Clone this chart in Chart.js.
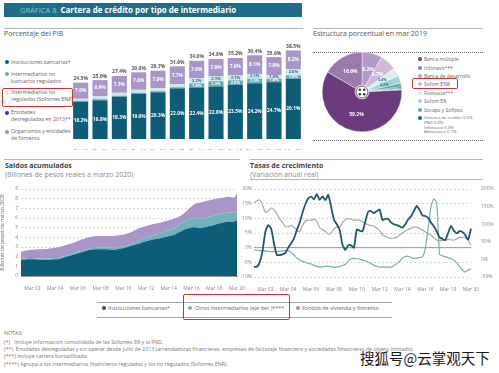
<!DOCTYPE html>
<html><head><meta charset="utf-8">
<script src="https://cdn.jsdelivr.net/npm/chart.js@4.4.1/dist/chart.umd.min.js"></script>
<style>
body{margin:0;background:#fff;font-family:'Open Sans',sans-serif;}
#root{position:relative;width:499px;height:373px;overflow:hidden;background:#fff;}
.a{position:absolute;white-space:nowrap;}
canvas{position:absolute;}
.hl{position:absolute;height:1px;background:#b5b5b5;}
.sec{position:absolute;font-size:7px;color:#555;line-height:8px;white-space:nowrap;}
.secb{position:absolute;font-size:7px;color:#444;font-weight:700;line-height:8px;white-space:nowrap;}
.secs{position:absolute;font-size:7px;color:#8a8a8a;line-height:8px;white-space:nowrap;}
.lg{position:absolute;font-size:5.3px;color:#666;line-height:6.7px;white-space:nowrap;}
.pl{position:absolute;font-size:5px;color:#666;line-height:6px;white-space:nowrap;}
.dot{position:absolute;width:4px;height:4px;border-radius:50%;}
.red{position:absolute;border:1.5px solid #c8372d;border-radius:2px;box-sizing:border-box;}
.note{position:absolute;font-size:5.3px;color:#777;line-height:6px;white-space:nowrap;}
</style></head><body><div id="root">

<div class="a" style="left:4px;top:3px;width:298px;height:14px;background:#1d6d8a;"></div>
<div class="a" style="left:20px;top:3px;line-height:14px;font-size:7.5px;color:#8cc6d8;">GRÁFICA 8. <span style="color:#fff;font-weight:700;font-size:8px;">Cartera de crédito por tipo de intermediario</span></div>

<div class="hl" style="left:4px;top:28px;width:299px;"></div>
<div class="hl" style="left:313px;top:28px;width:170px;"></div>
<div class="sec" style="left:4px;top:30px;">Porcentaje del PIB</div>
<div class="sec" style="left:313px;top:30px;">Estructura porcentual en mar 2019</div>

<!-- bar legend -->
<div class="dot" style="left:4.7px;top:60.3px;background:#0d5c78;"></div>
<div class="lg" style="left:11px;top:59px;">Instituciones bancarias*</div>
<div class="dot" style="left:4.7px;top:72.3px;background:#63aab4;"></div>
<div class="lg" style="left:11px;top:71px;">Intermediarios no<br>bancarios regulados</div>
<div class="dot" style="left:4.7px;top:90.7px;background:#cfe7ea;"></div>
<div class="lg" style="left:11px;top:89.3px;">Intermediarios no<br>regulados (Sofomes ENR)</div>
<div class="dot" style="left:4.7px;top:110.7px;background:#5c2d70;"></div>
<div class="lg" style="left:11px;top:109.3px;">Entidades<br>desreguladas en 2013**</div>
<div class="dot" style="left:4.7px;top:129.7px;background:#9d95ad;"></div>
<div class="lg" style="left:11px;top:128.3px;">Organismos y entidades<br>de fomento</div>
<div class="red" style="left:2px;top:88px;width:71px;height:19px;"></div>

<canvas id="bars" width="232" height="112" style="left:71px;top:38px;"></canvas>

<!-- pie -->
<div class="a" style="left:313px;top:52px;width:170px;border-top:1px dotted #666;"></div>
<div class="a" style="left:313px;top:140px;width:170px;border-top:1px dotted #666;"></div>
<canvas id="pie" width="80" height="80" style="left:322px;top:52px;"></canvas>
<div id="pieLegend"></div>
<div class="red" style="left:412px;top:78px;width:46px;height:11px;"></div>

<!-- row 2 headers -->
<div class="hl" style="left:4px;top:159px;width:236px;"></div>
<div class="hl" style="left:250px;top:159px;width:233px;"></div>
<div class="hl" style="left:250px;top:179px;width:233px;"></div>
<div class="secb" style="left:5px;top:161.5px;">Saldos acumulados</div>
<div class="secs" style="left:5px;top:170.5px;">(Billones de pesos reales a marzo 2020)</div>
<div class="secb" style="left:250px;top:161.5px;">Tasas de crecimiento</div>
<div class="secs" style="left:250px;top:170.5px;">(Variación anual real)</div>

<canvas id="area" width="252" height="108" style="left:0px;top:183px;"></canvas>
<canvas id="line" width="259" height="108" style="left:240px;top:183px;"></canvas>

<!-- bottom legend -->
<div class="a" style="left:97px;top:302px;width:295px;height:1px;background:#aaa;"></div>
<div class="a" style="left:97px;top:317px;width:295px;height:1px;background:#aaa;"></div>
<div class="dot" style="left:102px;top:306px;background:#1f5a66;"></div>
<div class="lg" style="left:108px;top:304.7px;font-size:5.5px;">Instituciones bancarias*</div>
<div class="dot" style="left:188px;top:306px;background:#7aaeb1;"></div>
<div class="lg" style="left:195px;top:304.7px;font-size:5.5px;">Otros intermediarios (eje der.)****</div>
<div class="dot" style="left:296px;top:306px;background:#9a9a9a;"></div>
<div class="lg" style="left:302px;top:304.7px;font-size:5.5px;">Fondos de vivienda y fomento</div>
<div class="red" style="left:183px;top:294px;width:107px;height:26px;"></div>

<!-- notes -->
<div class="note" style="left:4px;top:330.3px;">NOTAS:</div>
<div class="note" style="left:4px;top:338.7px;">(*)&nbsp;&nbsp;&nbsp;Incluye información consolidada de las Sofomes ER y la FND.</div>
<div class="note" style="left:4px;top:346px;">(**).&nbsp;Entidades desreguladas y sin operar desde julio de 2013 (arrendadoras financieras, empresas de factoraje financiero y sociedades financieras de objeto limitado).</div>
<div class="note" style="left:4px;top:353px;">(***) Incluye cartera bursatilizada.</div>
<div class="note" style="left:4px;top:361px;">(****) Agrupa a los intermediarios financieros regulados y los no regulados (Sofomes ENR).</div>
<div class="a" style="left:360px;top:348px;font-family:'Noto Sans CJK SC';font-size:14.5px;line-height:20px;color:#1a1a1a;text-shadow:0 0 2px #fff,0 0 2px #fff;">搜狐号@云掌观天下</div>

</div>
<script>
// ---------- DATA ----------
const barCategories = ["Dic 10","Dic 11","Dic 12","Dic 13","Dic 14","Dic 15","Dic 16","Dic 17","Dic 18","Mar 19","Dic 19","Mar 20"];
const barSeriesNames = ["Instituciones bancarias*","Intermediarios no bancarios regulados","Intermediarios no regulados (Sofomes ENR)","Entidades desreguladas en 2013**","Organismos y entidades de fomento"];
const barBank       = [16.2,16.8,18.3,19.6,20.3,22.0,22.4,22.8,23.5,24.2,24.7,26.1];
const barNonBankReg = [0.4,0.5,0.5,0.5,0.5,0.5,1.8,2.3,2.0,2.0,1.6,1.6];
const barSofomENR   = [0.9,1.4,1.3,1.3,1.3,1.4,2.2,2.1,2.1,2.1,1.5,2.6];
const barDesreg     = [0,0,0,0,0,0,0,0,0,0,0,0];
const barFomento    = [7.0,6.9,7.3,7.6,7.6,7.7,7.6,7.6,7.6,8.1,7.8,8.2];
const barTotals     = [24.5,25.6,27.4,29.0,29.7,31.6,34.0,34.8,35.2,36.4,35.6,38.5];

const pieLabels = ["Banca de desarrollo","Sofom ENR","Fovissste***","Sofom ER","Socaps y Sofipos","Uniones de crédito","FND","Infonacot","Almacenes","Banca múltiple","Infonavit***"];
const pieValues = [8.2,6.7,3.4,3.2,1.4,0.5,0.4,0.3,0.1,59.2,16.6];

const quarterLabels = ["Mar 01","Jun 01","Sep 01","Dic 01","Mar 02","Jun 02","Sep 02","Dic 02","Mar 03","Jun 03","Sep 03","Dic 03","Mar 04","Jun 04","Sep 04","Dic 04","Mar 05","Jun 05","Sep 05","Dic 05","Mar 06","Jun 06","Sep 06","Dic 06","Mar 07","Jun 07","Sep 07","Dic 07","Mar 08","Jun 08","Sep 08","Dic 08","Mar 09","Jun 09","Sep 09","Dic 09","Mar 10","Jun 10","Sep 10","Dic 10","Mar 11","Jun 11","Sep 11","Dic 11","Mar 12","Jun 12","Sep 12","Dic 12","Mar 13","Jun 13","Sep 13","Dic 13","Mar 14","Jun 14","Sep 14","Dic 14","Mar 15","Jun 15","Sep 15","Dic 15","Mar 16","Jun 16","Sep 16","Dic 16","Mar 17","Jun 17","Sep 17","Dic 17","Mar 18","Jun 18","Sep 18","Dic 18","Mar 19","Jun 19","Sep 19","Dic 19","Mar 20"];
const timeTickLabels = ["Mar 02","Mar 04","Mar 06","Mar 08","Mar 10","Mar 12","Mar 14","Mar 16","Mar 18","Mar 20"];
const lineSeriesNames = ["Instituciones bancarias*","Otros intermediarios (eje der.)****","Fondos de vivienda y fomento"];

const saldoBank = [1.65,1.68,1.72,1.73, 1.73,1.72,1.70,1.68, 1.66,1.66,1.68,1.70, 1.72,1.74,1.80,1.88, 1.98,2.08,2.16,2.24, 2.32,2.42,2.52,2.60, 2.68,2.72,2.76,2.78, 2.78,2.76,2.76,2.74, 2.72,2.70,2.78,2.84, 2.88,2.95,3.05,3.14, 3.22,3.32,3.40,3.52, 3.60,3.68,3.74,3.80, 3.86,3.90,3.97,4.04, 4.12,4.20,4.28,4.42, 4.58,4.72,4.85,4.95, 5.02,5.05,5.00,4.95, 5.00,5.08,5.15,5.20, 5.28,5.38,5.46,5.52, 5.58,5.62,5.60,5.62, 5.78];
const saldoOtros = [0.12,0.12,0.12,0.12, 0.12,0.12,0.12,0.12, 0.13,0.13,0.13,0.13, 0.13,0.13,0.13,0.13, 0.15,0.15,0.15,0.15, 0.15,0.15,0.15,0.15, 0.17,0.17,0.17,0.17, 0.17,0.17,0.17,0.17, 0.20,0.20,0.20,0.20, 0.20,0.20,0.20,0.20, 0.25,0.28,0.30,0.32, 0.35,0.38,0.40,0.42, 0.45,0.48,0.52,0.56, 0.60,0.64,0.68,0.72, 0.78,0.85,0.90,0.95, 0.95,0.95,0.95,0.95, 0.96,0.97,0.98,0.98, 0.98,0.98,0.97,0.96, 0.95,0.94,0.94,0.92, 0.92];
const saldoFondos = [0.73,0.78,0.81,0.85, 0.87,0.90,0.94,0.97, 0.99,1.01,1.03,1.05, 1.07,1.11,1.12,1.11, 1.07,1.07,1.09,1.11, 1.15,1.17,1.17,1.19, 1.15,1.17,1.17,1.19, 1.20,1.22,1.21,1.23, 1.23,1.26,1.22,1.20, 1.20,1.21,1.21,1.24, 1.25,1.26,1.28,1.24, 1.23,1.20,1.18,1.18, 1.15,1.14,1.11,1.08, 1.04,1.01,0.98,0.91, 0.84,0.83,0.90,1.05, 1.23,1.45,1.60,1.70, 1.69,1.70,1.69,1.70, 1.69,1.66,1.65,1.62, 1.62,1.64,1.61,1.56, 1.80];

const tasaBank = [-6.5,-6.5,-5,-1, 5.5,7.7,6.5,1.5, -2.5,-2.5,-2.3,-1.8, 0,1.5,3.2,6, 8.5,12,14.8,16.8, 17.4,16.5,18.3,16.3, 17.5,16.2,18,14, 9.5,8,6,1, -0.8,0.8,0.8,0, 6.2,5.8,5.6,9, 12.3,12.5,11.8,12.5, 13,9.4,9.8,9.8, 8.6,8,7.7,7.3, 6.8,8,9.6,10.7, 12.5,14.2,12.8,11, 10.8,10.2,8.5,7.3, 5.5,3.5,3,2.6, 5,7.4,5.8,4.9, 5.6,5.3,4.3,2.8, 6.5];
const tasaOtros = [28,26,25,24, 24,23,22,22, 22,23,24,25, 25,20,12,4, -2,-5,-8,-11, -13,-17,-20,-22, -21,-20,-20,-21, -22,-22,-20,-18, -14,-5,2,3, 2,1,-2,-4, -8,-12,-17,-20, -22,-22,-22,-22, -22,-18,-12,-6, 4,8,9,5, 3,3,5,8, 30,90,150,172, 160,15,10,8, 5,2,-2,-10, -20,-30,-36,-30, -27];
const tasaFondos = [15.3,16.0,16.3,14.5, 12.0,12.5,13.5,13.0, 11.5,9.8,8.5,7.2, 7.2,7.6,7.0,5.8, 5.5,7.5,9.0,9.4, 9.3,9.7,9.0,6.8, 6.2,5.5,4.6,5.0, 6.5,7.0,7.0,8.5, 9.5,10.0,9.6,9.4, 9.4,9.4,8.8,8.3, 7.8,7.5,7.4,6.6, 5.8,4.3,3.8,3.4, 3.2,3.3,3.5,4.3, 5.0,5.7,6.2,6.6, 7.0,6.9,6.6,6.0, 5.4,4.8,4.2,3.3, 2.6,2.4,2.5,2.6, 2.8,2.7,2.6,3.0, 3.5,3.5,3.5,2.5, 1.0];

// ---------- STYLE ----------
const FONT = "'Open Sans', sans-serif";
Chart.defaults.font.family = FONT;
Chart.defaults.color = '#888';

const pieColors = ['#b29bc8','#cdbbd9','#d9eef0','#9fd3d6','#55aab3','#1c6d82','#155a70','#2f8795','#0e4a5e','#6c3b7e','#9a7aab'];
const pieLabelColors = ['#fff','#fff','#2a6a7c','#2a6a7c','#fff','#fff','#fff','#fff','#fff','#fff','#fff'];

// pie legend (HTML)
const pieLegendItems = [
  ["Banca múltiple",'#6c3b7e',59],["Infonavit***",'#9a7aab',67.7],["Banca de desarrollo",'#b29bc8',75.5],["Sofom ENR",'#cdbbd9',83.5],
  ["Fovissste***",'#d9eef0',92.5],["Sofom ER",'#9fd3d6',101],["Socaps y Sofipos",'#55aab3',109.5]
];
const pl = document.getElementById('pieLegend');
pieLegendItems.forEach(([t,c,y])=>{
  pl.insertAdjacentHTML('beforeend', `<div class="dot" style="left:418px;top:${y-2}px;background:${c};width:4.4px;height:4.4px;"></div><div class="pl" style="left:424px;top:${y-3}px;">${t}</div>`);
});
pl.insertAdjacentHTML('beforeend', `<div class="dot" style="left:418px;top:116px;background:#1c6d82;width:4.4px;height:4.4px;"></div><div class="pl" style="left:424px;top:115.3px;font-size:4.3px;line-height:4.7px;">Uniones de crédito 0.5%<br>FND 0.4%<br>Infonacot 0.3%<br>Almacenes 0.1%</div>`);

// ---------- BAR CHART ----------
const barLabelPlugin = {
  id:'barLabels',
  afterDatasetsDraw(chart){
    const ctx = chart.ctx;
    ctx.save();
    ctx.textAlign='center'; ctx.textBaseline='middle';
    chart.data.datasets.forEach((ds,di)=>{
      const meta = chart.getDatasetMeta(di);
      meta.data.forEach((el,i)=>{
        const v = ds.data[i];
        if(!v) return;
        if((di===1||di===2) && v<1.5) return;
        ctx.font = (di===1||di===2) ? `bold 4px ${FONT}` : `bold 4.8px ${FONT}`;
        ctx.fillStyle = ds.labelColor;
        ctx.fillText(v.toFixed(1)+'%', el.x, (el.y+el.base)/2);
      });
    });
    const top = chart.getDatasetMeta(chart.data.datasets.length-1);
    ctx.fillStyle='#555'; ctx.font=`bold 5px ${FONT}`; ctx.textBaseline='bottom';
    top.data.forEach((el,i)=>ctx.fillText(barTotals[i].toFixed(1)+'%', el.x, el.y-1.5));
    ctx.restore();
  }
};
new Chart(document.getElementById('bars'),{
  type:'bar',
  data:{labels:barCategories,datasets:[
    {label:barSeriesNames[0],data:barBank,backgroundColor:'#0d5c78',labelColor:'#fff'},
    {label:barSeriesNames[1],data:barNonBankReg,backgroundColor:'#63aab4',labelColor:'#fff'},
    {label:barSeriesNames[2],data:barSofomENR,backgroundColor:'#cfe7ea',labelColor:'#2f6f80'},
    {label:barSeriesNames[3],data:barDesreg,backgroundColor:'#5c2d70',labelColor:'#fff'},
    {label:barSeriesNames[4],data:barFomento,backgroundColor:'#a995c7',labelColor:'#fff'}
  ]},
  options:{responsive:false,animation:false,events:[],
    layout:{padding:{top:9,left:0,right:0,bottom:0}},
    datasets:{bar:{categoryPercentage:1,barPercentage:0.78,borderWidth:0}},
    plugins:{legend:{display:false},tooltip:{enabled:false}},
    scales:{
      x:{stacked:true,grid:{display:false},border:{display:false},ticks:{font:{size:5},color:'#888',padding:1.5,maxRotation:0,autoSkip:false},afterFit(s){s.height=11;}},
      y:{stacked:true,display:false,min:0,max:40}
    }},
  plugins:[barLabelPlugin]
});

// ---------- PIE ----------
const pieLabelPlugin = {
  id:'pieLabels',
  afterDatasetsDraw(chart){
    const ctx=chart.ctx, meta=chart.getDatasetMeta(0);
    ctx.save(); ctx.textAlign='center'; ctx.textBaseline='middle';
    meta.data.forEach((arc,i)=>{
      const v=pieValues[i]; if(v<3) return;
      const p=arc.tooltipPosition();
      ctx.font = v<4 ? `bold 3.6px ${FONT}` : `bold 5px ${FONT}`;
      ctx.fillStyle=pieLabelColors[i];
      ctx.fillText(v.toFixed(1)+'%',p.x,p.y);
    });
    const c=meta.data[0];
    ctx.fillStyle='#fff'; ctx.strokeStyle='#3a3a3a'; ctx.lineWidth=0.8;
    ctx.beginPath(); ctx.arc(c.x,c.y,6,0,Math.PI*2); ctx.fill(); ctx.stroke();
    ctx.fillStyle='#3a3a3a';
    [[-2.2,-2.2],[2.2,-2.2],[-2.2,2.2],[2.2,2.2]].forEach(([dx,dy])=>{ctx.beginPath();ctx.arc(c.x+dx,c.y+dy,1.3,0,Math.PI*2);ctx.fill();});
    ctx.restore();
  }
};
new Chart(document.getElementById('pie'),{
  type:'doughnut',
  data:{labels:pieLabels,datasets:[{data:pieValues,backgroundColor:pieColors,borderColor:'#fff',borderWidth:0.4}]},
  options:{responsive:false,animation:false,events:[],cutout:7,layout:{padding:0},
    plugins:{legend:{display:false},tooltip:{enabled:false}}},
  plugins:[pieLabelPlugin]
});

// ---------- AREA ----------
const tickCb = function(v,i){const l=quarterLabels[i];return timeTickLabels.includes(l)?l:'';};
new Chart(document.getElementById('area'),{
  type:'line',
  data:{labels:quarterLabels,datasets:[
    {label:'Instituciones bancarias*',data:saldoBank,backgroundColor:'#0d5c78',borderWidth:0,fill:'origin'},
    {label:'Otros intermediarios',data:saldoOtros,backgroundColor:'#72b3bb',borderWidth:0,fill:'-1'},
    {label:'Fondos de vivienda y fomento',data:saldoFondos,backgroundColor:'#a995c7',borderWidth:0,fill:'-1'}
  ]},
  options:{responsive:false,animation:false,events:[],
    layout:{padding:{top:6,right:15,left:0,bottom:0}},
    elements:{point:{radius:0},line:{tension:0}},
    plugins:{legend:{display:false},tooltip:{enabled:false}},
    scales:{
      x:{grid:{display:false},border:{color:'#999'},ticks:{autoSkip:false,maxRotation:0,minRotation:0,font:{size:5},color:'#888',padding:2,callback:tickCb},afterFit(s){s.height=15;}},
      y:{stacked:true,min:0,max:9,ticks:{stepSize:1,font:{size:5},color:'#888',padding:3},grid:{color:'#d6d6d6',drawTicks:false},border:{display:false,dash:[2,2]},
         title:{display:true,text:'Billones de pesos de marzo 2020',font:{size:5},color:'#666',padding:0},afterFit(s){s.width=21;}}
    }}
});

// ---------- LINES ----------
const zeroLine = {
  id:'zeroLine',
  beforeDatasetsDraw(chart){
    const y=chart.scales.y.getPixelForValue(0), a=chart.chartArea, ctx=chart.ctx;
    ctx.save(); ctx.strokeStyle='#9a9a9a'; ctx.lineWidth=1;
    ctx.beginPath(); ctx.moveTo(a.left,y); ctx.lineTo(a.right,y); ctx.stroke(); ctx.restore();
  }
};
new Chart(document.getElementById('line'),{
  type:'line',
  data:{labels:quarterLabels,datasets:[
    {label:lineSeriesNames[0],data:tasaBank,borderColor:'#1f5a66',borderWidth:1.8,yAxisID:'y'},
    {label:lineSeriesNames[1],data:tasaOtros,borderColor:'#7aaeb1',borderWidth:1.2,yAxisID:'y1'},
    {label:lineSeriesNames[2],data:tasaFondos,borderColor:'#a8a8a8',borderWidth:1.2,yAxisID:'y'}
  ]},
  options:{responsive:false,animation:false,events:[],
    layout:{padding:{top:6,right:0,left:0,bottom:0}},
    elements:{point:{radius:0},line:{tension:0.2}},
    plugins:{legend:{display:false},tooltip:{enabled:false}},
    scales:{
      x:{grid:{display:false},border:{display:false},ticks:{autoSkip:false,maxRotation:0,minRotation:0,font:{size:5},color:'#888',padding:2,callback:tickCb},afterFit(s){s.height=14;}},
      y:{position:'left',min:-10,max:20,ticks:{stepSize:5,font:{size:5},color:'#888',padding:2,callback:v=>v+'%'},grid:{color:'#d6d6d6',drawTicks:false},border:{display:false,dash:[2,2]},afterFit(s){s.width=14;}},
      y1:{position:'right',min:-50,max:200,ticks:{stepSize:50,font:{size:5},color:'#888',padding:2,callback:v=>v+'%'},grid:{display:false},border:{display:false},afterFit(s){s.width=28;}}
    }},
  plugins:[zeroLine]
});
</script></body></html>
